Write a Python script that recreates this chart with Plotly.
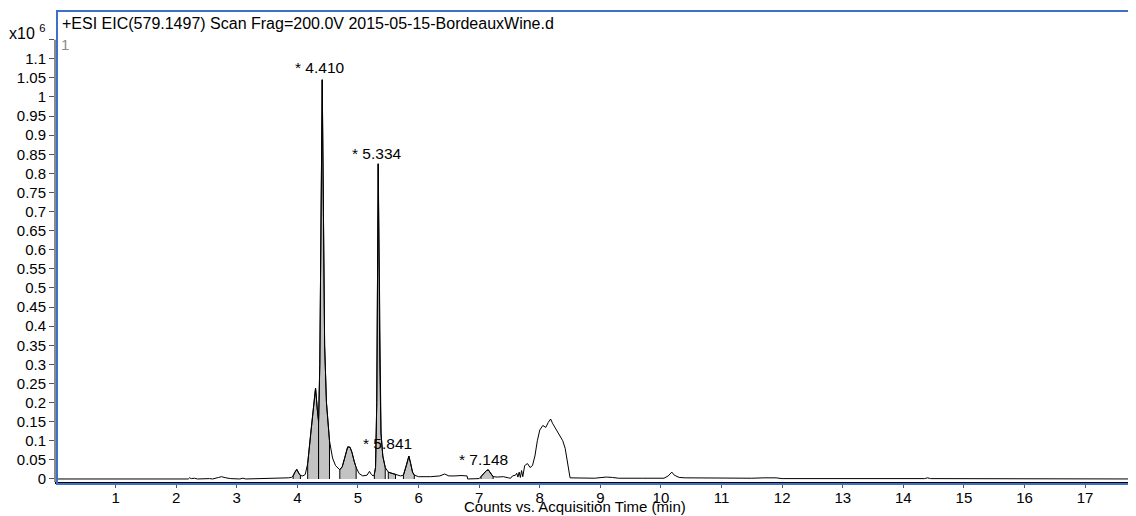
import plotly.graph_objects as go

# retention time (min) and counts (x10^6)
rt = [
    0.00, 2.20, 2.22, 2.25, 2.30, 2.35, 2.55, 2.60, 2.70, 2.75, 2.82, 2.90, 3.05, 3.10, 3.15,
    3.60, 3.80, 3.85, 3.90, 3.93, 3.96, 3.99, 4.02, 4.05, 4.09, 4.13, 4.17, 4.22, 4.27, 4.30,
    4.33, 4.35, 4.37, 4.39, 4.41, 4.43, 4.45, 4.48, 4.51, 4.53, 4.58, 4.63, 4.70, 4.74, 4.79,
    4.83, 4.87, 4.90, 4.94, 4.97, 5.02, 5.08, 5.15, 5.19, 5.22, 5.25, 5.27, 5.29, 5.31, 5.334,
    5.36, 5.38, 5.41, 5.45, 5.50, 5.55, 5.62, 5.66, 5.70, 5.75, 5.80, 5.84, 5.87, 5.90, 5.93,
    5.97, 6.00, 6.20, 6.35, 6.43, 6.50, 6.60, 6.70, 6.80, 6.81, 7.00, 7.03, 7.08, 7.12, 7.15,
    7.19, 7.23, 7.30, 7.40, 7.48, 7.52, 7.55, 7.60, 7.62, 7.64, 7.66, 7.68, 7.70, 7.72, 7.75,
    7.77, 7.80, 7.84, 7.88, 7.92, 7.96, 8.00, 8.05, 8.10, 8.14, 8.18, 8.21, 8.25, 8.29, 8.33,
    8.38, 8.42, 8.45, 8.48, 8.50, 8.90, 9.00, 9.10, 9.20, 9.30, 9.70, 10.05, 10.12, 10.18, 10.22,
    10.30, 10.40, 11.00, 11.50, 11.70, 11.90, 12.00, 14.35, 14.40, 14.45, 17.85,
]
counts = [
    0.000, 0.000, 0.003, 0.001, 0.002, 0.000, 0.001, 0.000, 0.004, 0.006, 0.003, 0.001, 0.000, 0.002, 0.000,
    0.001, 0.002, 0.003, 0.004, 0.008, 0.018, 0.025, 0.016, 0.009, 0.008, 0.012, 0.040, 0.120, 0.200, 0.238,
    0.180, 0.150, 0.300, 0.700, 1.045, 0.700, 0.350, 0.200, 0.130, 0.100, 0.055, 0.035, 0.024, 0.032, 0.060,
    0.084, 0.083, 0.070, 0.045, 0.030, 0.014, 0.008, 0.010, 0.020, 0.012, 0.008, 0.012, 0.030, 0.200, 0.825,
    0.300, 0.120, 0.060, 0.030, 0.018, 0.015, 0.012, 0.010, 0.008, 0.010, 0.035, 0.060, 0.040, 0.018, 0.010,
    0.007, 0.006, 0.006, 0.008, 0.013, 0.008, 0.008, 0.009, 0.008, 0.000, 0.001, 0.006, 0.015, 0.022, 0.024,
    0.016, 0.006, 0.005, 0.006, 0.003, 0.002, 0.008, 0.010, 0.015, 0.005, 0.018, 0.004, 0.022, 0.006, 0.034,
    0.038, 0.040, 0.030, 0.035, 0.060, 0.100, 0.128, 0.140, 0.135, 0.148, 0.157, 0.146, 0.135, 0.125, 0.112,
    0.100, 0.080, 0.055, 0.029, 0.003, 0.002, 0.004, 0.005, 0.004, 0.002, 0.002, 0.002, 0.008, 0.018, 0.010,
    0.004, 0.003, 0.002, 0.002, 0.003, 0.003, 0.001, 0.001, 0.003, 0.001, 0.000,
]

# integrated peak windows (start, end) in min
peak_windows = [
    (3.93, 4.05), (4.17, 4.35), (4.35, 4.53), (4.70, 4.97), (5.27, 5.45),
    (5.50, 5.62), (5.75, 5.93), (7.03, 7.23),
]

# labelled peaks: text, label x, label y
peak_labels = ["* 4.410", "* 5.334", "* 5.841", "* 7.148"]
label_x = [4.38, 5.32, 5.49, 7.07]
label_y = [1.078, 0.853, 0.092, 0.052]

y_ticks = [round(i * 0.05, 2) for i in range(24)]
y_text = [f"{v:g}" for v in y_ticks[:-1]] + [""]
x_ticks = list(range(1, 18))

FONT = "Liberation Sans, Arial, Helvetica, sans-serif"
BLUE = "#3d70c8"

fig = go.Figure()

for start, end in peak_windows:
    xs = [t for t in rt if start <= t <= end]
    ys = [c for t, c in zip(rt, counts) if start <= t <= end]
    fig.add_trace(go.Scatter(
        x=[xs[0]] + xs + [xs[-1]], y=[0] + ys + [0],
        mode="lines", fill="toself", fillcolor="#c3c3c3",
        line=dict(color="black", width=1), hoverinfo="skip",
    ))

fig.add_trace(go.Scatter(x=rt, y=counts, mode="lines", line=dict(color="black", width=1)))

for txt, lx, ly in zip(peak_labels, label_x, label_y):
    fig.add_annotation(x=lx, y=ly, text=txt, showarrow=False, font=dict(size=15.5, color="black"))

fig.add_annotation(xref="paper", yref="paper", x=0.0046, y=0.9745, xanchor="left", yanchor="middle",
                   text="+ESI EIC(579.1497) Scan Frag=200.0V 2015-05-15-BordeauxWine.d",
                   showarrow=False, font=dict(size=16, color="black"))
fig.add_annotation(xref="paper", yref="paper", x=-0.044, y=0.955, xanchor="left", yanchor="middle",
                   text="x10 <sup>6</sup>", showarrow=False, font=dict(size=16, color="black"))
fig.add_annotation(xref="paper", yref="paper", x=0.004, y=0.928, xanchor="left", yanchor="middle",
                   text="1", showarrow=False, font=dict(size=15, color="#8c8c8c"))
fig.add_annotation(xref="paper", yref="paper", x=0.481, y=-0.052, xanchor="center", yanchor="middle",
                   text="Counts vs. Acquisition Time (min)", showarrow=False,
                   font=dict(size=15, color="black"))

# blue frame and grey y axis line
fig.add_shape(type="rect", xref="paper", yref="paper", x0=0.00185, x1=1.01, y0=-0.0045, y1=1,
              line=dict(color=BLUE, width=2))
fig.add_shape(type="line", xref="paper", yref="y", x0=0, x1=0, y0=-0.008, y1=1.15,
              line=dict(color="#8a8a8a", width=2))

# page body keeps an 8px margin, so the figure is 8px smaller and shifted
fig.update_layout(
    width=1128, height=508,
    margin=dict(l=47, r=0, t=3, b=34),
    paper_bgcolor="white", plot_bgcolor="white",
    font=dict(family=FONT, color="black", size=15),
    showlegend=False,
)
fig.update_xaxes(
    range=[0, 17.84], tickvals=x_ticks, showgrid=False, zeroline=False, automargin=False,
    showline=True, linecolor="black", linewidth=1.5, ticklabelstandoff=-3,
    ticks="outside", ticklen=4, tickcolor="#555555", tickfont=dict(size=15),
)
fig.update_yaxes(
    range=[-0.0079, 1.225], tickvals=y_ticks, ticktext=y_text, showgrid=False, zeroline=False,
    automargin=False, showline=False, ticks="outside", ticklen=5, tickcolor="#555555",
    tickfont=dict(size=15),
)

fig.write_html("out.html")
